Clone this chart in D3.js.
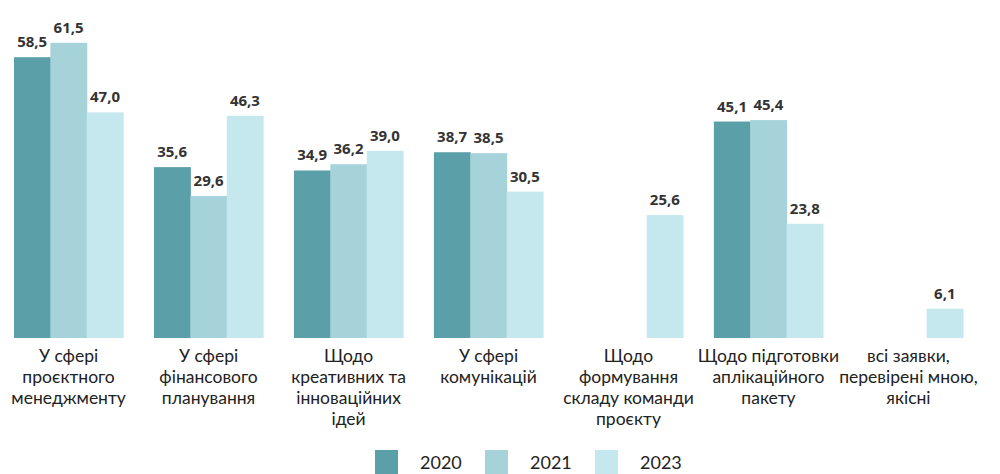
<!DOCTYPE html>
<html lang="uk">
<head>
<meta charset="utf-8">
<title>Chart</title>
<script src="https://cdn.jsdelivr.net/npm/d3@7"></script>
<style>
  body { margin: 0; background: #fff; }
  svg { display: block; font-family: "Noto Sans", sans-serif; }
</style>
</head>
<body>
<script>
// categories (line breaks = "|")
var categories = [
  "У сфері|проєктного|менеджменту",
  "У сфері|фінансового|планування",
  "Щодо|креативних та|інноваційних|ідей",
  "У сфері|комунікацій",
  "Щодо|формування|складу команди|проєкту",
  "Щодо підготовки|аплікаційного|пакету",
  "всі заявки,|перевірені мною,|якісні"
];
var years = ["2020", "2021", "2023"];
var v2020 = [58.5, 35.6, 34.9, 38.7, null, 45.1, null];
var v2021 = [61.5, 29.6, 36.2, 38.5, null, 45.4, null];
var v2023 = [47.0, 46.3, 39.0, 30.5, 25.6, 23.8, 6.1];
var colors = ["#5b9fa8", "#a5d3d9", "#c5e8ee"];

var w = 1000, h = 474;
var baseY = 338;

var series = [v2020, v2021, v2023];

var svg = d3.select("body").append("svg")
    .attr("width", w)
    .attr("height", h);

var x = d3.scaleBand()
    .domain(categories)
    .range([0, 977])
    .paddingInner(0.22)
    .paddingOuter(0.1);

var xs = d3.scaleBand()
    .domain(years)
    .range([0, x.bandwidth()]);

var y = d3.scaleLinear()
    .domain([0, 63.75])
    .range([baseY, 32]);

var fmt = function(v) { return d3.format(".1f")(v).replace(".", ","); };

// flatten to bar records
var bars = [];
categories.forEach(function(c, i) {
    years.forEach(function(yr, j) {
        var v = series[j][i];
        if (v != null) bars.push({cat: c, year: yr, value: v, idx: j});
    });
});

var g = svg.append("g");

g.selectAll("rect")
    .data(bars)
    .enter()
    .append("rect")
    .attr("x", function(d) { return x(d.cat) + xs(d.year); })
    .attr("y", function(d) { return y(d.value); })
    .attr("width", xs.bandwidth() + 0.5)
    .attr("height", function(d) { return baseY - y(d.value); })
    .attr("fill", function(d) { return colors[d.idx]; });

g.selectAll("text.val")
    .data(bars)
    .enter()
    .append("text")
    .attr("class", "val")
    .text(function(d) { return fmt(d.value); })
    .attr("x", function(d) { return x(d.cat) + xs(d.year) + xs.bandwidth() / 2; })
    .attr("y", function(d) { return y(d.value) - 10; })
    .attr("text-anchor", "middle")
    .attr("font-size", "15px")
    .attr("font-weight", "bold")
    .attr("fill", "#333");

// category labels, one text per line
var catG = svg.selectAll("g.cat")
    .data(categories)
    .enter()
    .append("g")
    .attr("class", "cat")
    .attr("transform", function(d) { return "translate(" + (x(d) + x.bandwidth() / 2) + ",362)"; });

catG.selectAll("text")
    .data(function(d) { return d.split("|"); })
    .enter()
    .append("text")
    .attr("x", 0)
    .attr("y", function(d, i) { return i * 21; })
    .attr("text-anchor", "middle")
    .attr("font-family", "Lato, sans-serif")
    .attr("font-size", "17.5px")
    .attr("fill", "#222")
    .text(function(d) { return d; });

// legend
var legend = svg.selectAll("g.leg")
    .data(years)
    .enter()
    .append("g")
    .attr("class", "leg")
    .attr("transform", function(d, i) { return "translate(" + (375 + i * 110) + ",450)"; });

legend.append("rect")
    .attr("width", 23)
    .attr("height", 24)
    .attr("fill", function(d, i) { return colors[i]; });

legend.append("text")
    .attr("x", 45)
    .attr("y", 19)
    .attr("font-family", "Lato, sans-serif")
    .attr("font-size", "18px")
    .attr("fill", "#222")
    .text(function(d) { return d; });
</script>
</body>
</html>
